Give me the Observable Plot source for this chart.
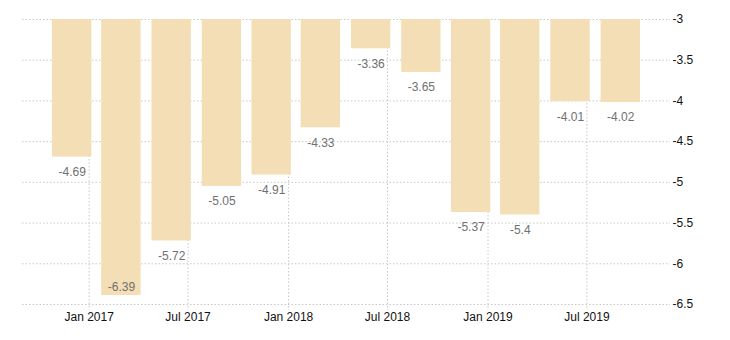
<!DOCTYPE html>
<html>
<head>
<meta charset="utf-8">
<script src="https://cdn.jsdelivr.net/npm/d3@7"></script>
<script src="https://cdn.jsdelivr.net/npm/@observablehq/plot@0.6"></script>
<style>
  html, body { margin: 0; padding: 0; background: #fff; }
  svg { display: block; }
</style>
</head>
<body>
<div id="chart"></div>
<script>
const periods = ["2016-12-01","2017-03-01","2017-06-01","2017-09-01","2017-12-01","2018-03-01",
                 "2018-06-01","2018-09-01","2018-12-01","2019-03-01","2019-06-01","2019-09-01"];
const values = [-4.69, -6.39, -5.72, -5.05, -4.91, -4.33, -3.36, -3.65, -5.37, -5.4, -4.01, -4.02];
const xTickDates = ["2017-01-01","2017-07-01","2018-01-01","2018-07-01","2019-01-01","2019-07-01"];
const yTicks = [-3, -3.5, -4, -4.5, -5, -5.5, -6, -6.5];
const baseline = -3;

const data = periods.map((p, i) => {
  const d = new Date(p + "T00:00:00Z");
  return { date: d, x1: d3.utcDay.offset(d, -36), x2: d3.utcDay.offset(d, 36), value: values[i] };
});
const xTicks = xTickDates.map(s => new Date(s + "T00:00:00Z"));

const grid = { stroke: "#c8c8c8", strokeDasharray: "1.5,2", strokeWidth: 1 };

const chart = Plot.plot({
  width: 730,
  height: 340,
  marginTop: 19,
  marginBottom: 36,
  marginLeft: 22,
  marginRight: 60,
  style: { fontFamily: "'Liberation Sans', Arial, sans-serif", fontSize: "12px", color: "#222", background: "#fff" },
  x: { type: "utc", label: null, domain: [new Date("2016-09-01T00:00:00Z"), new Date("2019-12-01T00:00:00Z")] },
  y: { label: null, domain: [-6.5, -3] },
  marks: [
    Plot.ruleY(yTicks, grid),
    Plot.ruleX(xTicks, { ...grid, insetBottom: -6 }),
    Plot.rectY(data, { x1: "x1", x2: "x2", y1: baseline, y2: "value", fill: "#f4deb5" }),
    Plot.text(data.filter(d => d.value > -6.2), { x: "date", y: "value", text: d => String(d.value), dy: 15, fill: "#707070", fontSize: 12 }),
    Plot.text(data.filter(d => d.value <= -6.2), { x: "date", y: "value", text: d => String(d.value), dy: -8, fill: "#707070", fontSize: 12 }),
    Plot.axisY({ anchor: "right", label: null, ticks: yTicks, tickSize: 0, tickPadding: 2, textAnchor: "start", tickFormat: d => String(d), fill: "#111" }),
    Plot.axisX({ label: null, ticks: xTicks, tickSize: 0, tickPadding: 8, tickFormat: d3.utcFormat("%b %Y"), fill: "#111" })
  ]
});
document.getElementById("chart").appendChild(chart);
</script>
</body>
</html>
